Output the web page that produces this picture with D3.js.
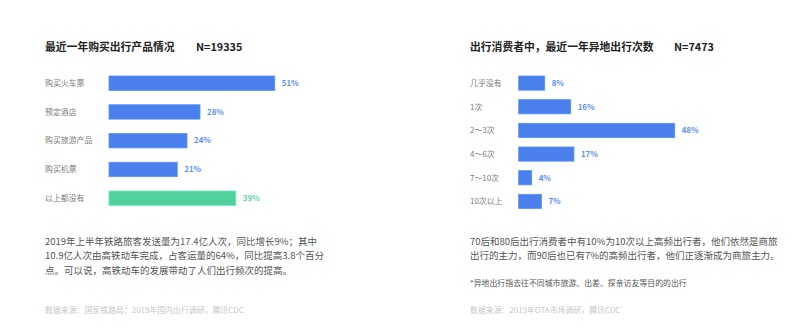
<!DOCTYPE html>
<html>
<head>
<meta charset="utf-8">
<script src="https://cdn.jsdelivr.net/npm/d3@7"></script>
<style>
  body { margin: 0; background: #fff; }
  svg text { font-family: "Noto Sans CJK SC", "Noto Sans", sans-serif; }
</style>
</head>
<body>
<div id="chart"></div>
<script>
// Left panel data
var leftTitle = "最近一年购买出行产品情况";
var leftN = "N=19335";
var leftCategories = ["购买火车票", "预定酒店", "购买旅游产品", "购买机票", "以上都没有"];
var leftValues = [51, 28, 24, 21, 39];
var leftText = [
	"2019年上半年铁路旅客发送量为17.4亿人次，同比增长9%；其中",
	"10.9亿人次由高铁动车完成，占客运量的64%，同比提高3.8个百分",
	"点。可以说，高铁动车的发展带动了人们出行频次的提高。"
];
var leftSource = "数据来源：国家铁路局；2019年国内出行调研，腾讯CDC";

// Right panel data
var rightTitle = "出行消费者中，最近一年异地出行次数";
var rightN = "N=7473";
var rightCategories = ["几乎没有", "1次", "2～3次", "4～6次", "7～10次", "10次以上"];
var rightValues = [8, 16, 48, 17, 4, 7];
var rightText = [
	"70后和80后出行消费者中有10%为10次以上高频出行者，他们依然是商旅",
	"出行的主力，而90后也已有7%的高频出行者，他们正逐渐成为商旅主力。"
];
var rightNote = "*异地出行指去往不同城市旅游、出差、探亲访友等目的的出行";
var rightSource = "数据来源：2019年OTA市场调研，腾讯CDC";

var width = 800, height = 330;

var svg = d3.select("#chart").append("svg")
	.attr("width", width)
	.attr("height", height);

// Draw one panel: title, bars, value labels and the text below
function drawPanel(opts) {
	var g = svg.append("g");

	g.append("text")
		.attr("x", opts.left)
		.attr("y", 50.5)
		.style("font-size", "10.8px")
		.style("font-weight", "bold")
		.attr("fill", "#222")
		.text(opts.title);

	g.append("text")
		.attr("x", opts.nX)
		.attr("y", 50.5)
		.style("font-size", "10.8px")
		.style("font-weight", "bold")
		.attr("fill", "#222")
		.text(opts.n);

	var x = d3.scaleLinear()
		.domain([0, 100])
		.range([opts.barX, opts.barX + 325]);

	var y = d3.scaleBand()
		.domain(opts.categories)
		.range([76, opts.bandEnd])
		.paddingInner(opts.pad)
		.paddingOuter(0);

	var rows = opts.categories.map(function(c, i) {
		return {cat: c, value: opts.values[i], color: opts.colors[i], labelColor: opts.labelColors[i]};
	});

	// Category labels
	g.append("g").selectAll(".cat_label")
		.data(rows)
		.enter().append("text")
		.attr("class", "cat_label")
		.attr("x", opts.left)
		.attr("y", function(d) { return y(d.cat) + y.bandwidth() / 2; })
		.attr("dy", "0.35em")
		.style("font-size", "7.9px")
		.attr("fill", "#7a7a7a")
		.text(function(d) { return d.cat; });

	// Bars
	g.append("g").selectAll(".bar")
		.data(rows)
		.enter().append("rect")
		.attr("class", "bar")
		.attr("x", x(0))
		.attr("y", function(d) { return y(d.cat); })
		.attr("width", function(d) { return x(d.value) - x(0); })
		.attr("height", y.bandwidth())
		.attr("fill", function(d) { return d.color; })
		.attr("stroke", function(d) { return d3.color(d.color).brighter(0.4); })
		.attr("stroke-width", 0.8);

	// Value labels
	g.append("g").selectAll(".val_label")
		.data(rows)
		.enter().append("text")
		.attr("class", "val_label")
		.attr("x", function(d) { return x(d.value) + 7; })
		.attr("y", function(d) { return y(d.cat) + y.bandwidth() / 2; })
		.attr("dy", "0.35em")
		.style("font-size", "7.9px")
		.style("font-weight", "bold")
		.attr("fill", function(d) { return d.labelColor; })
		.text(function(d) { return d.value + "%"; });

	// Paragraph
	g.append("g").selectAll(".para")
		.data(opts.text)
		.enter().append("text")
		.attr("class", "para")
		.attr("x", opts.left)
		.attr("y", function(d, i) { return 244.5 + i * 14.5; })
		.style("font-size", "9.5px")
		.attr("fill", "#555")
		.text(function(d) { return d; });

	if (opts.note) {
		g.append("text")
			.attr("x", opts.left)
			.attr("y", 285.5)
			.style("font-size", "7.9px")
			.attr("fill", "#555")
			.text(opts.note);
	}

	g.append("text")
		.attr("x", opts.left)
		.attr("y", 313)
		.style("font-size", "7.9px")
		.attr("fill", "#c8c8c8")
		.text(opts.source);
}

var blue = "#4a7fec", blueLabel = "#5d8ff0";
var green = "#52d19c", greenLabel = "#5ed6a5";

drawPanel({
	left: 45, nX: 196, barX: 109, bandEnd: 205.4, pad: 0.5,
	title: leftTitle, n: leftN,
	categories: leftCategories, values: leftValues,
	colors: [blue, blue, blue, blue, green],
	labelColors: [blueLabel, blueLabel, blueLabel, blueLabel, greenLabel],
	text: leftText, source: leftSource
});

drawPanel({
	left: 470, nX: 674, barX: 518.7, bandEnd: 208.5, pad: 0.4,
	title: rightTitle, n: rightN,
	categories: rightCategories, values: rightValues,
	colors: rightValues.map(function() { return blue; }),
	labelColors: rightValues.map(function() { return blueLabel; }),
	text: rightText, note: rightNote, source: rightSource
});
</script>
</body>
</html>
